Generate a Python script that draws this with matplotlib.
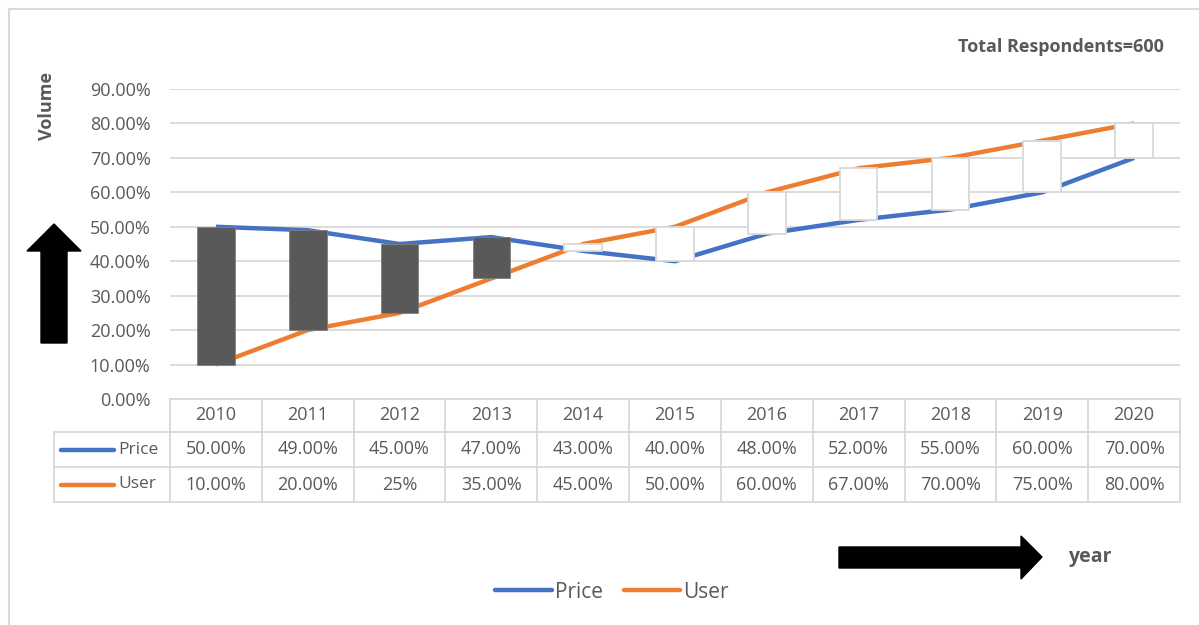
import matplotlib
matplotlib.use('Agg')
from matplotlib import pyplot as plt
from matplotlib import patches
from matplotlib.transforms import blended_transform_factory
from matplotlib.lines import Line2D

years = ['2010', '2011', '2012', '2013', '2014', '2015', '2016', '2017', '2018', '2019', '2020']
price = [0.50, 0.49, 0.45, 0.47, 0.43, 0.40, 0.48, 0.52, 0.55, 0.60, 0.70]
user = [0.10, 0.20, 0.25, 0.35, 0.45, 0.50, 0.60, 0.67, 0.70, 0.75, 0.80]
price_labels = ['50.00%', '49.00%', '45.00%', '47.00%', '43.00%', '40.00%',
                '48.00%', '52.00%', '55.00%', '60.00%', '70.00%']
user_labels = ['10.00%', '20.00%', '25%', '35.00%', '45.00%', '50.00%',
               '60.00%', '67.00%', '70.00%', '75.00%', '80.00%']
y_ticks = [0.0, 0.1, 0.2, 0.3, 0.4, 0.5, 0.6, 0.7, 0.8, 0.9]

BLUE = '#4472c4'
ORANGE = '#ed7d31'
GRID = '#d9d9d9'
TXT = '#595959'

plt.rcParams['font.family'] = ['Open Sans', 'DejaVu Sans']

W, H = 1199, 625
fig = plt.figure(figsize=(W / 100, H / 100), dpi=100)


def fx(px):
    return px / W


def fy(py):
    return 1 - py / H


# chart frame (top and left edges visible)
fig.add_artist(Line2D([fx(9), fx(1199)], [fy(9), fy(9)], color=GRID, lw=1.5))
fig.add_artist(Line2D([fx(9), fx(9)], [fy(9), fy(625)], color=GRID, lw=1.5))

ax = fig.add_axes([fx(170), fy(399), fx(1180) - fx(170), fy(89) - fy(399)])
x = list(range(len(years)))
ax.set_xlim(-0.5, len(years) - 0.5)
ax.set_ylim(0, 0.9)

ax.plot(x, price, color=BLUE, lw=3.2, solid_capstyle='butt', zorder=2)
ax.plot(x, user, color=ORANGE, lw=3.2, solid_capstyle='butt', zorder=2)

# up-down bars
for xi, p, u in zip(x, price, user):
    lo, hi = min(p, u), max(p, u)
    if p > u:
        ax.bar(xi, hi - lo, bottom=lo, width=0.41, color='#595959',
               edgecolor='#7f7f7f', lw=0.6, zorder=3)
    else:
        ax.bar(xi, hi - lo, bottom=lo, width=0.41, color='white',
               edgecolor=GRID, lw=1.3, zorder=3)

ax.set_yticks(y_ticks)
ax.set_yticklabels([f'{v * 100:.2f}%' for v in y_ticks])
ax.tick_params(axis='y', length=0, labelsize=13, labelcolor=TXT, pad=14)
ax.set_xticks([])
ax.grid(axis='y', color=GRID, lw=1.3)
ax.set_axisbelow(True)
for s in ax.spines.values():
    s.set_visible(False)

# data table under the axis
tr = blended_transform_factory(ax.transData, fig.transFigure)
row_y = [399, 432, 467, 502]
for i in range(len(years) + 1):
    fig.add_artist(Line2D([i - 0.5, i - 0.5], [fy(row_y[0]), fy(row_y[-1])],
                          transform=tr, color=GRID, lw=1.3))
fig.add_artist(Line2D([fx(170), fx(1180)], [fy(row_y[0]), fy(row_y[0])], color=GRID, lw=1.3))
for ry in row_y[1:]:
    fig.add_artist(Line2D([fx(54), fx(1180)], [fy(ry), fy(ry)], color=GRID, lw=1.3))
fig.add_artist(Line2D([fx(54), fx(54)], [fy(row_y[1]), fy(row_y[-1])], color=GRID, lw=1.3))

rows = [years, price_labels, user_labels]
for r, labels in enumerate(rows):
    yc = fy((row_y[r] + row_y[r + 1]) / 2)
    for i, lab in enumerate(labels):
        fig.text(i, yc, lab, transform=tr, ha='center', va='center',
                 fontsize=13, color=TXT)

for r, (name, col) in enumerate([('Price', BLUE), ('User', ORANGE)], start=1):
    yc = fy((row_y[r] + row_y[r + 1]) / 2)
    fig.add_artist(Line2D([fx(61), fx(114)], [yc, yc], color=col, lw=3.2,
                          solid_capstyle='round'))
    fig.text(fx(118), yc, name, ha='left', va='center', fontsize=12.5, color=TXT)

# texts
fig.text(fx(47), fy(106), 'Volume', rotation=90, ha='center', va='center',
         fontsize=13, fontweight='bold', color=TXT)
fig.text(fx(1164), fy(47), 'Total Respondents=600', ha='right', va='center',
         fontsize=13, fontweight='bold', color=TXT)
fig.text(fx(1068), fy(557), 'year', ha='left', va='center',
         fontsize=14, fontweight='bold', color=TXT)

# arrows
up = patches.Polygon([(fx(41), fy(343)), (fx(67), fy(343)), (fx(67), fy(251)),
                      (fx(81), fy(251)), (fx(54), fy(224)), (fx(27), fy(251)),
                      (fx(41), fy(251))], closed=True, color='black',
                     transform=fig.transFigure)
right = patches.Polygon([(fx(839), fy(547)), (fx(1021), fy(547)), (fx(1021), fy(536)),
                         (fx(1042), fy(557)), (fx(1021), fy(579)), (fx(1021), fy(568)),
                         (fx(839), fy(568))], closed=True, color='black',
                        transform=fig.transFigure)
fig.add_artist(up)
fig.add_artist(right)

handles = [Line2D([], [], color=BLUE, lw=3.2, solid_capstyle='round'),
           Line2D([], [], color=ORANGE, lw=3.2, solid_capstyle='round')]
leg = fig.legend(handles, ['Price', 'User'], loc='center', bbox_to_anchor=(fx(612), fy(592)),
                 ncol=2, frameon=False, fontsize=15, handlelength=2.7,
                 handletextpad=0.15, columnspacing=1.0)
for t in leg.get_texts():
    t.set_color(TXT)

fig.savefig('out.png', dpi=100)
